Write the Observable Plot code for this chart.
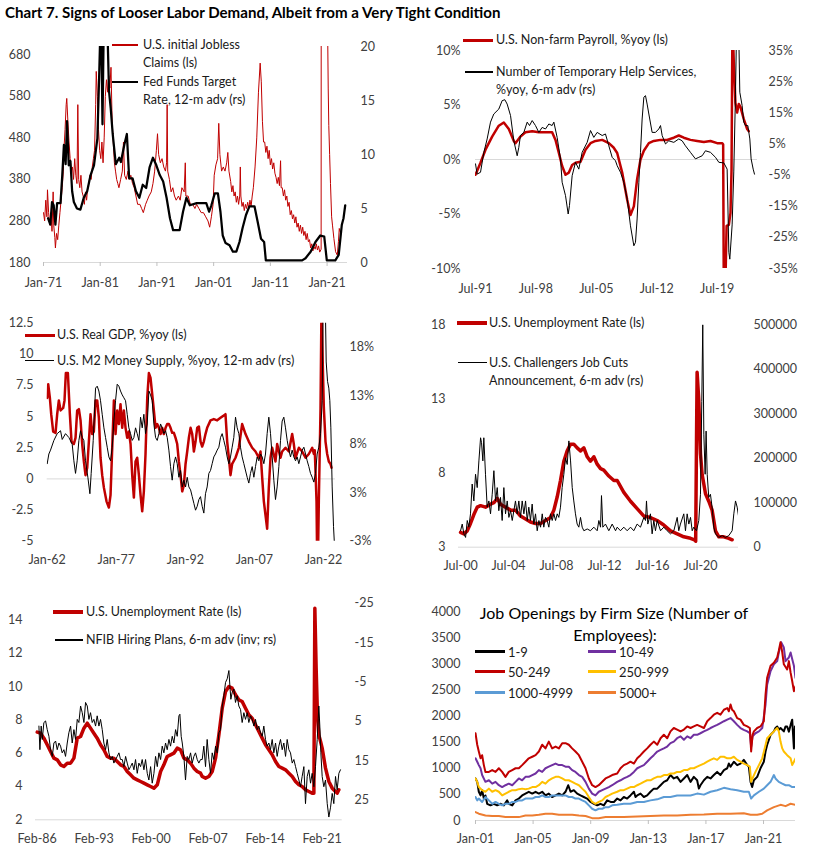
<!DOCTYPE html>
<html>
<head>
<meta charset="utf-8">
<script src="https://cdn.jsdelivr.net/npm/d3@7"></script>
<script src="https://cdn.jsdelivr.net/npm/@observablehq/plot@0.6"></script>
<style>
  html,body{margin:0;padding:0;background:#fff;}
  #chart{position:relative;width:818px;height:859px;background:#fff;overflow:hidden;}
</style>
</head>
<body>
<div id="chart"></div>
<script>
// ---------------- DATA (decimal year, value) ----------------
// Panel 1: initial jobless claims (thousands, ls) and Fed funds target 12-m adv (%, rs)
const claims = [[1971.0,300],[1971.2,280],[1971.4,330],[1971.6,290],[1971.7,355],[1971.9,300],[1972.1,270],[1972.3,300],[1972.5,255],[1972.7,350],[1972.8,270],[1973.0,240],[1973.1,215],[1973.3,250],[1973.5,235],[1973.7,270],[1973.9,300],[1974.1,330],[1974.3,360],[1974.5,400],[1974.6,450],[1974.8,500],[1975.0,560],[1975.1,575],[1975.3,520],[1975.5,470],[1975.7,430],[1975.9,400],[1976.1,410],[1976.3,380],[1976.5,430],[1976.7,390],[1976.9,370],[1977.05,560],[1977.2,380],[1977.4,360],[1977.6,390],[1977.8,350],[1978.0,340],[1978.2,320],[1978.4,350],[1978.6,330],[1978.8,360],[1979.0,370],[1979.2,390],[1979.4,380],[1979.6,410],[1979.8,430],[1980.0,450],[1980.2,560],[1980.3,640],[1980.5,580],[1980.7,500],[1980.9,450],[1981.1,430],[1981.3,470],[1981.5,420],[1981.7,480],[1981.9,580],[1982.1,620],[1982.3,590],[1982.5,630],[1982.7,600],[1982.9,650],[1983.1,520],[1983.3,470],[1983.5,420],[1983.7,400],[1983.9,380],[1984.1,370],[1984.3,360],[1984.6,380],[1984.9,400],[1985.1,470],[1985.3,390],[1985.6,380],[1985.9,400],[1986.1,380],[1986.4,390],[1986.7,370],[1987.0,360],[1987.3,340],[1987.6,320],[1988.0,320],[1988.3,310],[1988.6,300],[1989.0,320],[1989.3,330],[1989.6,340],[1990.0,350],[1990.3,370],[1990.6,400],[1990.9,450],[1991.1,490],[1991.3,440],[1991.6,420],[1991.9,430],[1992.2,410],[1992.5,400],[1992.7,420],[1992.8,560],[1992.9,400],[1993.2,380],[1993.5,350],[1993.8,360],[1994.1,340],[1994.4,330],[1994.8,340],[1995.1,330],[1995.4,360],[1995.8,350],[1996.0,420],[1996.1,340],[1996.5,340],[1996.9,320],[1997.3,320],[1997.7,310],[1998.0,320],[1998.4,310],[1998.8,300],[1999.2,300],[1999.6,290],[2000.0,280],[2000.3,265],[2000.6,290],[2000.9,320],[2001.1,390],[2001.4,415],[2001.7,430],[2001.9,515],[2002.1,440],[2002.4,400],[2002.7,410],[2003.0,400],[2003.3,420],[2003.5,445],[2003.7,400],[2004.0,375],[2004.2,350],[2004.4,365],[2004.6,340],[2004.8,350],[2005.0,325],[2005.2,340],[2005.4,320],[2005.6,340],[2005.7,410],[2005.8,340],[2006.0,315],[2006.2,325],[2006.4,305],[2006.6,320],[2006.8,310],[2007.0,325],[2007.2,310],[2007.4,330],[2007.6,315],[2007.8,340],[2008.0,360],[2008.3,410],[2008.6,480],[2008.9,590],[2009.2,660],[2009.4,615],[2009.6,520],[2009.8,470],[2010.0,470],[2010.2,445],[2010.4,460],[2010.6,430],[2010.8,450],[2011.0,415],[2011.2,430],[2011.4,405],[2011.6,420],[2011.8,395],[2012.0,385],[2012.2,370],[2012.4,385],[2012.6,365],[2012.8,425],[2012.9,360],[2013.1,360],[2013.3,340],[2013.5,355],[2013.7,330],[2013.9,340],[2014.1,315],[2014.3,325],[2014.5,295],[2014.7,305],[2014.9,285],[2015.1,295],[2015.3,275],[2015.5,290],[2015.7,265],[2015.9,275],[2016.1,255],[2016.3,270],[2016.5,250],[2016.7,265],[2016.9,245],[2017.1,255],[2017.3,235],[2017.5,250],[2017.7,230],[2017.9,235],[2018.1,215],[2018.3,225],[2018.5,208],[2018.7,218],[2018.9,212],[2019.1,225],[2019.3,210],[2019.5,220],[2019.7,205],[2019.95,212],[2020.02,3000],[2020.1,6000],[2020.5,1500],[2020.9,800],[2021.1,740],[2021.2,600],[2021.3,510],[2021.45,440],[2021.6,370],[2021.8,290],[2021.95,270],[2022.2,238],[2022.5,206],[2022.8,198],[2023.0,230],[2023.15,262],[2023.3,254]];
const fedFunds = [[1971.8,4.1],[1972.2,3.5],[1972.5,5.6],[1972.8,5.3],[1973.1,3.5],[1973.4,5.5],[1974.0,5.5],[1974.3,8.0],[1974.6,10.9],[1974.9,9.1],[1975.15,13.1],[1975.45,9.0],[1975.75,9.4],[1976.05,6.6],[1976.35,5.6],[1976.9,5.0],[1977.5,4.9],[1978.1,6.0],[1978.7,6.6],[1979.3,8.1],[1979.9,9.0],[1980.5,11.5],[1980.8,17.0],[1981.0,21],[1981.2,21],[1981.4,12.8],[1981.6,21],[1982.3,21],[1982.55,15.9],[1982.85,14.3],[1983.2,11.9],[1983.75,9.1],[1984.35,9.7],[1984.65,9.3],[1985.25,10.9],[1985.7,11.9],[1986.1,7.8],[1986.7,7.8],[1987.3,6.6],[1987.9,6.0],[1988.5,7.2],[1989.1,6.9],[1989.7,8.8],[1990.3,9.7],[1990.9,9.0],[1991.5,8.1],[1992.1,7.5],[1992.7,6.0],[1993.3,4.1],[1993.85,3.0],[1995.0,3.0],[1995.6,4.7],[1996.2,6.0],[1996.8,5.3],[1998.0,5.5],[1999.7,5.5],[2000.2,4.7],[2000.6,5.3],[2001.2,6.4],[2001.75,6.4],[2002.2,4.7],[2002.6,2.5],[2003.1,1.8],[2003.8,1.6],[2004.4,1.0],[2005.0,1.0],[2005.55,1.9],[2006.1,3.2],[2006.7,4.4],[2007.3,5.2],[2008.2,5.2],[2008.75,3.8],[2009.35,2.2],[2009.9,1.9],[2010.2,0.2],[2016.6,0.2],[2017.2,0.4],[2018.1,1.0],[2018.95,1.9],[2019.8,2.5],[2020.5,2.4],[2020.95,0.2],[2022.45,0.2],[2023.05,0.7],[2023.6,3.5],[2023.9,4.1],[2024.2,5.3]];

// Panel 2: non-farm payroll %yoy (ls), temporary help services %yoy 6-m adv (rs)
const payroll = [[1991.5,-1.4],[1992.08,-0.3],[1992.66,0.9],[1993.43,2.1],[1994.2,3.1],[1994.78,3.4],[1995.36,2.8],[1995.94,1.7],[1996.13,1.5],[1996.71,2.1],[1997.29,2.5],[1998.07,2.6],[1998.84,2.5],[1999.61,2.5],[2000.38,2.5],[2000.77,1.8],[2001.16,0.6],[2001.54,-0.6],[2001.93,-1.4],[2002.32,-1.2],[2002.7,-0.5],[2003.09,-0.3],[2003.67,-0.2],[2004.25,0.9],[2004.83,1.5],[2005.41,1.7],[2006.18,1.8],[2006.95,1.5],[2007.5,1.1],[2007.92,0.6],[2008.5,-1.2],[2009.08,-3.7],[2009.46,-5.1],[2009.85,-4.3],[2010.23,-1.8],[2010.62,0.0],[2011.01,0.8],[2011.59,1.5],[2012.16,1.7],[2012.94,1.8],[2013.71,1.8],[2014.48,2.0],[2015.06,2.2],[2015.64,2.0],[2016.41,1.8],[2017.19,1.7],[2017.96,1.6],[2018.73,1.7],[2019.5,1.5],[2020.08,1.5],[2020.2,1.4],[2020.28,-13],[2020.47,-11],[2020.6,-6.1],[2020.86,-6.0],[2021.05,-4.9],[2021.17,-1],[2021.28,13],[2021.43,9],[2021.62,5.2],[2021.82,4.3],[2022.01,5.1],[2022.21,4.8],[2022.59,3.7],[2022.98,2.8],[2023.17,2.6]];
const tempHelp = [[1991.5,-1.4],[1991.69,-4.7],[1992.08,-4.1],[1992.47,2.3],[1992.85,6.6],[1993.24,12],[1993.62,14.6],[1994.2,16.2],[1994.59,18.9],[1994.9,19.2],[1995.17,17.8],[1995.56,14.1],[1995.94,6],[1996.33,1.2],[1996.52,3.9],[1996.71,7.7],[1997.1,8.7],[1997.49,12],[1997.76,10.9],[1998.07,12.5],[1998.45,10.9],[1998.84,8.7],[1999.22,10.3],[1999.61,9.8],[2000.0,11.4],[2000.38,10.9],[2000.58,12],[2000.96,7.1],[2001.35,0.2],[2001.54,-7.3],[2001.93,-11.6],[2002.24,-17.5],[2002.39,-14.8],[2002.7,-5.2],[2003.09,-0.9],[2003.47,-3.1],[2003.86,2.3],[2004.44,5.5],[2004.83,9.3],[2005.21,7.1],[2005.6,8.7],[2006.18,7.7],[2006.56,8.2],[2006.95,4.4],[2007.34,0.7],[2007.72,-0.4],[2007.92,-2],[2008.3,-4.1],[2008.69,-7.3],[2009.08,-12.7],[2009.46,-21.3],[2009.85,-27.7],[2010.04,-26.6],[2010.23,-19.1],[2010.43,-7.3],[2010.62,2.3],[2010.81,13],[2011.01,20],[2011.2,20.5],[2011.39,17.8],[2011.59,14.6],[2011.97,8.7],[2012.36,8.7],[2012.74,9.8],[2012.94,10.9],[2013.13,7.7],[2013.52,5],[2013.9,6],[2014.48,5.5],[2015.06,6.6],[2015.45,6],[2015.83,4.4],[2016.41,2.3],[2016.99,0.2],[2017.38,0.7],[2017.77,1.2],[2018.15,2.8],[2018.73,2.3],[2019.31,0.7],[2019.7,-0.9],[2020.28,-1.1],[2020.66,-3.1],[2020.86,-29.8],[2020.97,-32],[2021.24,-21],[2021.43,-4],[2021.63,21],[2021.74,40],[2022.01,40],[2022.13,21.6],[2022.4,17.3],[2022.59,12],[2022.79,10.9],[2023.06,10.9],[2023.29,6.6],[2023.44,0.2],[2023.68,-3.1],[2023.83,-4.7]];

// Panel 3: real GDP %yoy (ls), M2 %yoy 12-m adv (rs)
const gdp = [[1962.0,6.5],[1962.22,7.6],[1962.58,6.5],[1962.87,5.2],[1963.3,3.8],[1963.81,3.7],[1964.17,5.2],[1964.53,6.3],[1964.9,5.5],[1965.47,5.7],[1965.76,6.3],[1966.05,8.5],[1966.49,8.5],[1966.92,5.2],[1967.28,3.0],[1967.79,2.8],[1968.15,3.3],[1968.51,5.5],[1968.88,5.6],[1969.24,4.7],[1969.6,2.8],[1969.96,1.4],[1970.32,0.3],[1970.69,0.9],[1971.05,3.0],[1971.41,5.2],[1971.77,3.6],[1972.13,3.8],[1972.5,6.3],[1972.86,6.3],[1973.22,4.9],[1973.58,1.7],[1973.94,0.3],[1974.31,-0.7],[1974.88,-1.8],[1975.39,-2.3],[1975.75,-1.3],[1976.12,2.5],[1976.48,6.3],[1976.84,3.6],[1977.2,5.5],[1977.56,4.4],[1977.92,6.0],[1978.29,4.1],[1978.65,5.5],[1979.01,4.1],[1979.37,3.3],[1979.73,3.8],[1980.1,2.8],[1980.46,0.3],[1980.82,-1.5],[1981.18,1.4],[1981.54,1.7],[1981.91,0.3],[1982.27,-1.3],[1982.63,-2.6],[1982.99,-1.0],[1983.35,2.0],[1983.72,6.5],[1984.08,8.5],[1984.44,8.1],[1984.8,6.8],[1985.16,5.5],[1985.53,4.1],[1985.89,4.4],[1986.25,4.1],[1986.61,3.6],[1986.97,4.1],[1987.33,3.6],[1987.7,4.1],[1988.06,4.4],[1988.42,4.4],[1988.78,4.1],[1989.14,3.7],[1989.51,3.7],[1989.87,3.3],[1990.23,2.8],[1990.59,1.4],[1990.95,0.3],[1991.32,-1.0],[1991.68,-0.5],[1992.04,1.2],[1992.4,2.2],[1992.76,3.3],[1993.13,4.1],[1993.49,3.6],[1993.85,2.2],[1994.21,3.0],[1994.57,4.1],[1994.94,4.2],[1995.3,3.0],[1995.65,2.6],[1996.01,3.0],[1996.37,3.6],[1996.73,4.1],[1997.46,4.7],[1998.18,4.8],[1998.91,4.7],[1999.63,4.9],[2000.35,5.1],[2000.71,5.2],[2001.08,3.0],[2001.44,1.7],[2001.8,0.3],[2002.16,1.2],[2002.89,1.7],[2003.61,2.5],[2004.33,4.4],[2005.06,3.6],[2005.78,3.0],[2006.51,2.5],[2007.23,2.2],[2007.95,1.7],[2008.32,2.2],[2008.68,0.1],[2009.04,-1.8],[2009.4,-2.9],[2009.76,-4.0],[2010.12,-0.7],[2010.49,1.7],[2010.85,2.5],[2011.57,1.4],[2011.93,2.8],[2012.66,1.7],[2013.02,2.2],[2013.74,2.5],[2014.47,2.2],[2015.19,3.6],[2015.55,2.8],[2015.92,1.7],[2016.64,2.5],[2017.36,2.2],[2018.09,1.7],[2018.81,2.0],[2019.54,2.5],[2019.9,2.0],[2020.1,2.3],[2020.48,-1.8],[2020.69,-9],[2020.98,-1.8],[2021.35,5.7],[2021.56,14],[2021.85,9.0],[2022.07,5.7],[2022.43,3.0],[2022.79,2.0],[2023.15,1.4],[2023.52,1.2],[2023.73,0.9]];
const m2 = [[1962.0,5.5],[1962.36,6.5],[1962.72,6.9],[1963.45,7.9],[1964.17,8.6],[1964.9,8.9],[1965.26,8.0],[1965.98,8.6],[1966.71,8.2],[1967.43,7.5],[1967.79,5.8],[1968.15,4.5],[1968.51,5.8],[1968.88,7.9],[1969.24,8.9],[1969.6,8.2],[1969.96,7.9],[1970.32,5.8],[1970.83,4.1],[1971.27,2.4],[1971.55,4.5],[1971.99,7.9],[1972.5,13.3],[1972.86,13.5],[1973.22,13.0],[1973.58,12.0],[1973.94,10.6],[1974.31,9.2],[1974.67,8.2],[1975.03,7.2],[1975.39,6.2],[1975.75,5.8],[1976.12,7.2],[1976.48,9.9],[1976.84,12.0],[1977.2,13.7],[1977.56,13.5],[1977.92,13.0],[1978.29,12.6],[1978.65,12.3],[1979.01,12.0],[1979.37,10.6],[1979.73,9.2],[1980.1,8.6],[1980.46,7.9],[1980.82,8.2],[1981.18,9.2],[1981.54,8.6],[1981.91,7.9],[1982.27,10.3],[1982.63,9.2],[1982.99,10.6],[1983.35,8.6],[1983.72,9.6],[1984.08,13.0],[1984.44,12.6],[1984.8,12.0],[1985.16,9.6],[1985.53,8.2],[1985.89,7.9],[1986.25,8.6],[1986.61,9.6],[1986.97,9.2],[1987.33,8.6],[1987.7,8.9],[1988.06,8.2],[1988.42,6.9],[1988.78,5.2],[1989.14,3.8],[1989.51,5.5],[1989.87,6.2],[1990.23,5.5],[1990.59,4.1],[1990.95,4.8],[1991.32,3.1],[1991.68,3.8],[1992.04,3.1],[1992.4,4.1],[1992.76,3.1],[1993.13,2.8],[1993.49,2.1],[1993.85,1.4],[1994.21,0.7],[1994.57,1.1],[1994.94,1.8],[1995.29,2.1],[1995.65,1.1],[1996.01,0.4],[1996.37,2.4],[1996.73,3.1],[1997.1,4.5],[1997.46,4.8],[1997.82,5.5],[1998.18,6.2],[1998.54,6.5],[1998.91,6.9],[1999.27,7.2],[1999.63,8.2],[1999.99,8.6],[2000.35,7.9],[2000.71,7.2],[2001.08,6.2],[2001.44,5.5],[2001.8,6.2],[2002.16,7.2],[2002.52,8.2],[2002.89,10.3],[2003.25,9.2],[2003.61,8.6],[2003.97,7.2],[2004.33,6.2],[2004.7,5.5],[2005.42,4.1],[2005.78,3.5],[2006.14,4.5],[2006.51,5.2],[2006.87,4.1],[2007.23,5.2],[2007.59,6.2],[2007.95,5.8],[2008.32,6.5],[2008.68,6.2],[2009.04,5.5],[2009.4,6.5],[2009.76,8.6],[2010.12,10.3],[2010.49,8.6],[2010.85,6.2],[2011.21,3.8],[2011.57,1.8],[2011.93,3.1],[2012.3,5.2],[2012.66,7.9],[2013.02,9.9],[2013.38,10.3],[2013.74,9.2],[2014.11,7.9],[2014.47,6.9],[2014.83,6.2],[2015.19,6.9],[2015.55,6.2],[2015.92,5.8],[2016.28,6.2],[2016.64,5.5],[2017.0,6.2],[2017.36,6.9],[2017.73,7.2],[2018.09,6.5],[2018.45,5.8],[2018.81,5.2],[2019.17,4.5],[2019.54,4.1],[2019.9,3.6],[2020.26,4.5],[2020.62,6.5],[2020.98,7.2],[2021.35,8.6],[2021.71,12.0],[2022.0,26],[2022.29,25],[2022.58,16.0],[2022.87,14.0],[2023.15,13.3],[2023.37,12.0],[2023.59,9.2],[2023.88,3.1],[2024.17,-1.0],[2024.39,-3.0]];

// Panel 4: unemployment rate (ls), Challenger job cuts 6-m adv (thousands, rs)
const unemp4 = [[2000.5,4.0],[2000.78,3.9],[2001.06,4.1],[2001.33,4.6],[2001.61,5.2],[2001.89,5.7],[2002.17,5.8],[2002.58,5.7],[2003.0,5.9],[2003.28,6.0],[2003.56,6.3],[2003.83,5.9],[2004.25,5.7],[2004.67,5.5],[2005.08,5.5],[2005.5,5.1],[2005.92,4.9],[2006.33,4.7],[2006.75,4.6],[2007.17,4.6],[2007.58,4.8],[2008.0,5.0],[2008.28,5.5],[2008.56,6.4],[2008.83,7.5],[2009.11,8.8],[2009.39,9.5],[2009.67,9.95],[2009.94,9.95],[2010.22,9.7],[2010.5,9.5],[2010.78,9.7],[2011.06,9.1],[2011.33,8.8],[2011.61,9.1],[2011.89,8.6],[2012.17,8.3],[2012.44,8.2],[2012.86,7.8],[2013.28,7.5],[2013.56,7.5],[2014.11,6.7],[2014.67,6.1],[2015.22,5.6],[2015.78,5.1],[2016.33,5.0],[2016.89,4.8],[2017.44,4.5],[2018.0,4.1],[2018.56,3.9],[2019.11,3.7],[2019.67,3.6],[2020.0,3.5],[2020.1,3.4],[2020.17,10.2],[2020.22,14.8],[2020.36,12.9],[2020.5,9.3],[2020.64,7.9],[2020.92,6.6],[2021.19,6.1],[2021.47,5.5],[2021.75,4.1],[2022.03,3.7],[2022.44,3.7],[2022.86,3.6],[2023.14,3.5]];
const jobCuts = [[2000.5,37],[2000.64,52],[2000.78,30],[2000.92,22],[2001.06,60],[2001.19,45],[2001.33,75],[2001.47,142],[2001.61,104],[2001.75,164],[2001.89,134],[2002.03,194],[2002.17,246],[2002.25,235],[2002.36,194],[2002.44,246],[2002.58,164],[2002.72,90],[2002.86,104],[2003.0,75],[2003.14,119],[2003.28,172],[2003.42,104],[2003.56,134],[2003.69,82],[2003.83,112],[2003.97,60],[2004.11,134],[2004.25,75],[2004.39,104],[2004.53,67],[2004.67,82],[2004.81,60],[2005.08,104],[2005.22,75],[2005.36,104],[2005.5,67],[2005.64,104],[2005.78,75],[2005.92,104],[2006.06,60],[2006.19,90],[2006.33,60],[2006.47,97],[2006.61,52],[2006.75,75],[2006.89,37],[2007.03,60],[2007.17,45],[2007.31,75],[2007.44,45],[2007.58,67],[2007.72,60],[2007.86,45],[2008.0,75],[2008.14,60],[2008.28,75],[2008.42,60],[2008.56,75],[2008.69,67],[2008.83,90],[2008.97,134],[2009.11,164],[2009.25,201],[2009.39,186],[2009.53,239],[2009.67,194],[2009.81,134],[2009.94,104],[2010.08,75],[2010.22,52],[2010.36,45],[2010.5,67],[2010.64,45],[2010.78,37],[2011.06,41],[2011.33,37],[2011.61,45],[2011.89,37],[2012.03,60],[2012.17,45],[2012.25,116],[2012.36,45],[2012.58,52],[2012.86,37],[2013.14,52],[2013.42,37],[2013.56,45],[2013.83,37],[2014.11,45],[2014.39,37],[2014.67,45],[2014.94,37],[2015.22,52],[2015.5,45],[2015.78,67],[2015.92,60],[2016.0,104],[2016.11,52],[2016.33,75],[2016.47,30],[2016.61,60],[2016.75,37],[2016.89,60],[2017.17,37],[2017.44,45],[2017.72,37],[2018.0,30],[2018.28,37],[2018.56,67],[2018.69,37],[2018.83,52],[2019.11,75],[2019.25,37],[2019.39,75],[2019.53,52],[2019.67,67],[2019.81,37],[2019.94,45],[2020.17,37],[2020.36,60],[2020.5,119],[2020.61,328],[2020.69,500],[2020.78,254],[2020.89,164],[2020.97,261],[2021.06,164],[2021.19,112],[2021.33,119],[2021.47,90],[2021.61,45],[2021.75,30],[2022.03,22],[2022.31,26],[2022.58,22],[2022.86,26],[2023.14,37],[2023.28,75],[2023.42,104],[2023.56,90],[2023.69,67]];

// Panel 5: unemployment rate (ls), NFIB hiring plans 6-m adv (inverted, rs)
const unemp5 = [[1986.08,7.26],[1986.49,7.2],[1986.9,6.9],[1987.31,6.5],[1987.72,6.1],[1988.13,5.7],[1988.54,5.6],[1988.95,5.3],[1989.36,5.2],[1989.77,5.4],[1990.18,5.4],[1990.59,5.7],[1991.0,6.9],[1991.41,7.0],[1991.82,7.5],[1992.23,7.8],[1992.63,7.5],[1993.04,7.2],[1993.45,6.9],[1993.86,6.5],[1994.27,6.2],[1994.68,5.8],[1995.09,5.7],[1995.5,5.7],[1995.91,5.5],[1996.32,5.3],[1996.73,5.2],[1997.14,4.9],[1997.55,4.7],[1997.96,4.5],[1998.37,4.4],[1998.78,4.3],[1999.19,4.2],[1999.6,4.1],[2000.01,4.0],[2000.42,3.9],[2000.83,4.1],[2001.24,4.9],[2001.64,5.3],[2002.05,5.8],[2002.46,5.9],[2002.87,6.0],[2003.28,6.3],[2003.69,6.2],[2004.1,5.7],[2004.51,5.6],[2004.92,5.4],[2005.33,5.1],[2005.74,4.9],[2006.15,4.8],[2006.35,4.6],[2006.76,4.5],[2007.17,4.6],[2007.58,4.9],[2007.99,5.7],[2008.4,7.1],[2008.81,8.7],[2009.22,9.7],[2009.63,10.0],[2010.03,9.9],[2010.44,9.5],[2010.85,9.2],[2011.26,9.1],[2011.67,8.7],[2012.08,8.3],[2012.49,8.1],[2012.9,7.7],[2013.31,7.3],[2013.72,6.9],[2014.13,6.5],[2014.54,6.2],[2014.95,5.9],[2015.36,5.5],[2015.77,5.2],[2016.18,5.1],[2016.59,5.0],[2017.0,4.8],[2017.41,4.6],[2017.82,4.3],[2018.23,4.1],[2018.63,4.0],[2019.04,3.8],[2019.45,3.7],[2019.86,3.6],[2020.07,3.6],[2020.19,14.7],[2020.35,11.1],[2020.52,8.1],[2020.68,7.1],[2020.89,6.7],[2021.09,6.3],[2021.5,5.1],[2021.91,4.3],[2022.32,3.9],[2022.73,3.7],[2022.93,3.6],[2023.14,3.8]];
const nfib = [[1986.29,6.2],[1986.41,12.2],[1986.57,6.2],[1986.7,9.6],[1986.9,5.3],[1987.11,4.9],[1987.31,7.1],[1987.52,8.8],[1987.72,12.2],[1987.93,13.9],[1988.13,10.5],[1988.34,10.0],[1988.54,12.2],[1988.75,10.5],[1988.95,11.3],[1989.15,13.0],[1989.36,12.2],[1989.56,13.9],[1989.77,10.5],[1989.97,7.9],[1990.18,6.2],[1990.38,10.5],[1990.59,7.1],[1990.79,9.6],[1991.0,4.5],[1991.2,5.3],[1991.41,1.1],[1991.61,2.8],[1991.82,5.3],[1992.02,0.2],[1992.23,1.1],[1992.43,4.5],[1992.63,2.8],[1992.84,5.3],[1993.04,4.5],[1993.25,6.2],[1993.45,3.6],[1993.66,6.2],[1993.86,4.5],[1994.07,7.1],[1994.27,10.5],[1994.48,12.2],[1994.68,9.6],[1994.89,13.0],[1995.09,14.7],[1995.3,13.9],[1995.5,15.6],[1995.71,14.7],[1995.91,13.9],[1996.12,13.0],[1996.32,14.7],[1996.53,14.7],[1996.73,16.5],[1996.94,13.9],[1997.14,15.6],[1997.35,17.3],[1997.55,16.5],[1997.76,15.6],[1997.96,17.3],[1998.16,14.7],[1998.37,18.2],[1998.57,15.6],[1998.78,16.5],[1998.98,14.7],[1999.19,17.3],[1999.39,14.7],[1999.6,18.2],[1999.8,19.9],[2000.01,16.5],[2000.21,20.7],[2000.42,18.2],[2000.62,13.9],[2000.83,16.5],[2001.03,13.0],[2001.24,14.7],[2001.44,11.3],[2001.64,13.0],[2001.85,10.5],[2002.05,12.2],[2002.26,9.6],[2002.46,11.3],[2002.67,8.8],[2002.87,10.5],[2003.08,7.1],[2003.28,8.8],[2003.49,3.6],[2003.61,3.2],[2003.77,8.8],[2003.9,10.5],[2004.1,13.9],[2004.3,19.9],[2004.51,13.9],[2004.71,14.7],[2004.92,13.0],[2005.12,15.6],[2005.33,13.9],[2005.53,13.0],[2005.74,14.7],[2005.94,15.6],[2006.15,14.7],[2006.35,14.7],[2006.55,11.3],[2006.76,16.5],[2006.96,9.6],[2007.17,14.7],[2007.37,18.2],[2007.58,13.0],[2007.78,14.7],[2007.99,11.3],[2008.19,13.0],[2008.4,7.9],[2008.6,7.1],[2008.81,1.1],[2009.01,-1.5],[2009.22,-4.9],[2009.42,-5.8],[2009.63,-7.9],[2009.75,-4.1],[2009.87,-0.6],[2010.03,-2.3],[2010.24,-3.2],[2010.44,0.2],[2010.65,-1.5],[2010.85,1.1],[2011.06,2.0],[2011.26,5.3],[2011.47,2.8],[2011.67,4.5],[2011.88,2.8],[2012.08,5.3],[2012.29,3.6],[2012.49,4.5],[2012.7,6.2],[2012.9,4.5],[2013.11,7.1],[2013.31,6.2],[2013.52,7.9],[2013.72,8.8],[2013.92,6.2],[2014.13,9.6],[2014.33,11.3],[2014.54,10.5],[2014.74,12.2],[2014.95,9.6],[2015.15,13.0],[2015.36,10.5],[2015.56,13.9],[2015.77,11.3],[2015.97,9.6],[2016.18,12.2],[2016.38,10.5],[2016.59,13.9],[2016.79,9.6],[2017.0,12.2],[2017.2,13.0],[2017.41,15.6],[2017.61,14.7],[2017.82,16.5],[2018.02,18.2],[2018.23,19.9],[2018.43,21.6],[2018.63,19.0],[2018.84,16.5],[2019.04,25.9],[2019.25,19.0],[2019.45,17.3],[2019.66,20.7],[2019.86,18.2],[2020.07,21.6],[2020.27,16.5],[2020.48,9.6],[2020.68,1.1],[2020.8,6.2],[2020.93,13.0],[2021.09,19.0],[2021.29,21.6],[2021.5,19.9],[2021.71,25.9],[2021.91,29.3],[2022.12,26.8],[2022.32,23.3],[2022.52,25.9],[2022.73,19.0],[2022.93,22.4],[2023.14,18.2],[2023.34,17.3]];

// Panel 6: job openings by firm size (thousands)
const jo1to9 = [[2001.0,805],[2001.12,740],[2001.23,550],[2001.35,480],[2001.46,580],[2001.58,420],[2001.69,480],[2001.81,320],[2002.04,290],[2002.27,320],[2002.5,290],[2002.74,320],[2002.97,290],[2003.2,385],[2003.31,320],[2003.55,290],[2003.78,385],[2004.01,420],[2004.24,480],[2004.47,515],[2004.7,550],[2004.94,515],[2005.17,550],[2005.4,515],[2005.63,550],[2005.86,480],[2006.09,515],[2006.32,450],[2006.56,480],[2006.79,515],[2007.02,480],[2007.25,550],[2007.44,675],[2007.6,550],[2007.83,580],[2008.06,515],[2008.29,480],[2008.52,450],[2008.75,420],[2008.99,355],[2009.22,320],[2009.45,290],[2009.68,320],[2009.91,290],[2010.14,385],[2010.38,355],[2010.61,355],[2010.84,420],[2011.07,385],[2011.3,450],[2011.53,420],[2011.76,480],[2012.0,550],[2012.11,450],[2012.23,480],[2012.46,515],[2012.69,450],[2012.92,480],[2013.15,550],[2013.38,610],[2013.62,610],[2013.85,675],[2014.08,740],[2014.31,770],[2014.54,870],[2014.77,805],[2015.0,835],[2015.24,740],[2015.47,805],[2015.7,870],[2015.93,740],[2016.16,835],[2016.39,770],[2016.51,610],[2016.62,675],[2016.86,770],[2017.09,835],[2017.32,805],[2017.55,870],[2017.78,930],[2018.01,870],[2018.25,965],[2018.48,1000],[2018.59,1090],[2018.71,1030],[2018.94,1125],[2019.17,1060],[2019.4,1090],[2019.63,1160],[2019.87,1060],[2019.98,1030],[2020.1,740],[2020.21,640],[2020.33,770],[2020.56,835],[2020.79,1000],[2021.02,1125],[2021.14,1320],[2021.25,1445],[2021.49,1640],[2021.72,1705],[2021.83,1770],[2021.95,1800],[2022.06,1735],[2022.18,1770],[2022.41,1705],[2022.53,1800],[2022.64,1800],[2022.76,1700],[2022.88,1830],[2022.99,1930],[2023.11,1380],[2023.18,1800],[2023.22,1770]];
const jo10to49 = [[2001.0,1190],[2001.12,1125],[2001.23,1060],[2001.35,1000],[2001.46,870],[2001.69,740],[2001.93,770],[2002.16,705],[2002.39,740],[2002.62,675],[2002.85,640],[2003.08,675],[2003.31,705],[2003.55,675],[2003.78,740],[2004.01,805],[2004.24,770],[2004.47,835],[2004.7,835],[2004.94,870],[2005.17,900],[2005.4,965],[2005.63,930],[2005.86,1000],[2006.09,1030],[2006.32,1060],[2006.56,1090],[2006.79,1060],[2007.02,1060],[2007.25,1030],[2007.48,1030],[2007.71,965],[2007.94,930],[2008.18,870],[2008.41,835],[2008.64,740],[2008.87,610],[2009.1,515],[2009.33,480],[2009.56,550],[2009.8,580],[2010.03,610],[2010.26,640],[2010.49,675],[2010.84,740],[2011.07,770],[2011.3,805],[2011.53,835],[2011.76,870],[2012.0,930],[2012.23,1000],[2012.46,1030],[2012.69,1060],[2012.92,1125],[2013.15,1190],[2013.38,1250],[2013.62,1320],[2013.85,1350],[2014.08,1380],[2014.31,1415],[2014.54,1480],[2014.77,1510],[2015.0,1575],[2015.24,1610],[2015.47,1545],[2015.7,1610],[2015.93,1575],[2016.16,1640],[2016.39,1640],[2016.62,1670],[2016.86,1705],[2017.09,1735],[2017.32,1770],[2017.55,1800],[2017.78,1830],[2018.01,1865],[2018.25,1900],[2018.48,1930],[2018.71,1960],[2018.94,1900],[2019.17,1830],[2019.4,1770],[2019.63,1735],[2019.87,1705],[2020.05,1670],[2020.14,1415],[2020.24,1610],[2020.44,1670],[2020.68,1705],[2020.91,1770],[2021.14,2220],[2021.25,2600],[2021.49,2860],[2021.72,2990],[2021.95,3050],[2022.06,3215],[2022.23,3410],[2022.41,3310],[2022.53,3050],[2022.76,3120],[2022.88,3215],[2022.99,3090],[2023.11,2960],[2023.22,2730]];
const jo50to249 = [[2001.0,1670],[2001.12,1450],[2001.23,1320],[2001.35,1190],[2001.46,1250],[2001.58,1060],[2001.69,930],[2001.93,930],[2002.16,965],[2002.39,930],[2002.62,1000],[2002.85,930],[2003.08,835],[2003.31,930],[2003.55,965],[2003.78,1000],[2004.01,1000],[2004.24,1060],[2004.47,1125],[2004.7,1190],[2004.94,1220],[2005.17,1250],[2005.4,1320],[2005.63,1450],[2005.86,1380],[2006.09,1510],[2006.32,1380],[2006.56,1415],[2006.79,1380],[2007.02,1480],[2007.25,1480],[2007.48,1450],[2007.71,1380],[2007.94,1320],[2008.18,1250],[2008.41,1125],[2008.64,1000],[2008.87,805],[2009.1,675],[2009.33,640],[2009.56,675],[2009.8,740],[2010.03,805],[2010.26,835],[2010.49,870],[2010.84,900],[2011.07,1000],[2011.3,1060],[2011.53,1090],[2011.76,1125],[2012.0,1090],[2012.23,1190],[2012.46,1250],[2012.69,1320],[2012.92,1380],[2013.15,1450],[2013.38,1510],[2013.62,1450],[2013.85,1575],[2014.08,1640],[2014.31,1575],[2014.54,1705],[2014.77,1770],[2015.0,1740],[2015.24,1705],[2015.47,1740],[2015.7,1800],[2015.93,1770],[2016.16,1800],[2016.39,1830],[2016.62,1800],[2016.86,1770],[2017.09,1900],[2017.32,1960],[2017.55,2025],[2017.78,2060],[2018.01,2025],[2018.25,2120],[2018.48,2150],[2018.59,2090],[2018.71,2220],[2018.82,2120],[2018.94,2090],[2019.17,1960],[2019.4,1930],[2019.63,1830],[2019.87,1800],[2020.05,1770],[2020.14,1320],[2020.24,1640],[2020.33,1705],[2020.56,1770],[2020.79,1800],[2021.02,1900],[2021.14,2410],[2021.25,2730],[2021.49,2960],[2021.72,3020],[2021.95,3120],[2022.06,3250],[2022.18,3410],[2022.3,3220],[2022.41,2990],[2022.64,2890],[2022.76,3050],[2022.88,2830],[2022.99,2670],[2023.11,2475],[2023.22,2570]];
const jo250to999 = [[2001.0,805],[2001.12,740],[2001.23,640],[2001.46,580],[2001.69,550],[2001.93,610],[2002.16,550],[2002.39,580],[2002.62,550],[2002.85,480],[2003.08,515],[2003.31,550],[2003.55,580],[2003.78,580],[2004.01,600],[2004.24,610],[2004.47,600],[2004.7,610],[2004.94,640],[2005.17,640],[2005.4,675],[2005.63,740],[2005.86,705],[2006.09,770],[2006.32,805],[2006.56,835],[2006.79,835],[2007.02,805],[2007.25,770],[2007.48,770],[2007.71,740],[2007.94,705],[2008.18,675],[2008.41,610],[2008.64,550],[2008.87,450],[2009.1,355],[2009.33,320],[2009.56,355],[2009.8,385],[2010.03,450],[2010.26,480],[2010.49,515],[2010.84,550],[2011.07,580],[2011.3,580],[2011.53,610],[2011.76,640],[2012.0,640],[2012.23,675],[2012.46,705],[2012.69,740],[2012.92,770],[2013.15,770],[2013.38,805],[2013.62,835],[2013.85,835],[2014.08,870],[2014.31,870],[2014.54,900],[2014.77,900],[2015.0,930],[2015.24,930],[2015.47,965],[2015.7,965],[2015.93,1000],[2016.16,1000],[2016.39,1030],[2016.62,1060],[2016.86,1090],[2017.09,1125],[2017.32,1160],[2017.55,1190],[2017.78,1160],[2018.01,1220],[2018.25,1220],[2018.48,1190],[2018.71,1190],[2018.94,1220],[2019.17,1160],[2019.4,1125],[2019.63,1090],[2019.87,1060],[2020.05,1030],[2020.14,740],[2020.28,835],[2020.44,930],[2020.68,1060],[2020.91,1190],[2021.14,1445],[2021.25,1575],[2021.49,1640],[2021.72,1705],[2021.95,1770],[2022.06,1705],[2022.18,1510],[2022.3,1380],[2022.41,1320],[2022.64,1250],[2022.88,1190],[2022.99,1060],[2023.11,1125],[2023.22,1190]];
const jo1000to4999 = [[2001.0,450],[2001.12,385],[2001.23,420],[2001.46,355],[2001.69,450],[2001.93,385],[2002.16,320],[2002.39,355],[2002.62,320],[2002.85,290],[2003.08,320],[2003.31,320],[2003.55,355],[2003.78,355],[2004.01,385],[2004.24,385],[2004.47,420],[2004.7,420],[2004.94,420],[2005.17,450],[2005.4,450],[2005.63,480],[2005.86,450],[2006.09,450],[2006.32,480],[2006.56,480],[2006.79,480],[2007.02,480],[2007.25,480],[2007.48,450],[2007.71,450],[2007.94,420],[2008.18,420],[2008.41,385],[2008.64,355],[2008.87,290],[2009.1,225],[2009.33,195],[2009.56,225],[2009.8,225],[2010.03,255],[2010.26,255],[2010.49,290],[2010.84,300],[2011.3,320],[2011.76,320],[2012.23,355],[2012.69,355],[2013.15,385],[2013.62,405],[2014.08,450],[2014.54,450],[2015.0,480],[2015.47,480],[2015.93,480],[2016.39,515],[2016.86,495],[2017.32,550],[2017.78,580],[2018.25,625],[2018.71,600],[2019.17,580],[2019.63,550],[2019.98,550],[2020.14,420],[2020.33,480],[2020.68,550],[2021.02,610],[2021.25,675],[2021.49,740],[2021.72,870],[2021.83,805],[2022.06,740],[2022.3,705],[2022.53,675],[2022.76,675],[2022.99,640],[2023.22,640]];
const jo5000plus = [[2001.0,160],[2001.23,130],[2001.69,95],[2002.16,85],[2002.62,85],[2003.08,65],[2003.55,65],[2004.01,65],[2004.47,95],[2004.94,95],[2005.4,110],[2005.86,130],[2006.32,130],[2006.79,110],[2007.25,110],[2007.71,110],[2008.18,95],[2008.64,85],[2009.1,45],[2009.56,45],[2010.03,65],[2010.49,65],[2011.3,65],[2012.23,75],[2013.15,85],[2014.08,95],[2015.0,95],[2015.93,110],[2016.86,115],[2017.78,130],[2018.71,130],[2019.63,140],[2020.1,110],[2020.56,110],[2020.91,130],[2021.25,195],[2021.72,255],[2022.18,300],[2022.53,275],[2022.88,320],[2023.22,300]];
const sizeNames = ["1-9","10-49","50-249","250-999","1000-4999","5000+"];
const sizeSeries = [jo1to9, jo10to49, jo50to249, jo250to999, jo1000to4999, jo5000plus];
const sizeColors = ["#000000","#7030A0","#C00000","#FFC000","#5B9BD5","#ED7D31"];

// ---------------- TICKS / LABELS ----------------
const p1XTicks = [1971,1981,1991,2001,2011,2021];
const p1XLabels = ["Jan-71","Jan-81","Jan-91","Jan-01","Jan-11","Jan-21"];
const p1LeftTicks = [180,280,380,480,580,680];
const p1RightTicks = [0,5,10,15,20];
const p2XTicks = [1991.5,1998.5,2005.5,2012.5,2019.5];
const p2XLabels = ["Jul-91","Jul-98","Jul-05","Jul-12","Jul-19"];
const p2LeftTicks = [-10,-5,0,5,10];
const p2LeftLabels = ["-10%","-5%","0%","5%","10%"];
const p2RightTicks = [-35,-25,-15,-5,5,15,25,35];
const p2RightLabels = ["-35%","-25%","-15%","-5%","5%","15%","25%","35%"];
const p3XTicks = [1962,1977,1992,2007,2022];
const p3XLabels = ["Jan-62","Jan-77","Jan-92","Jan-07","Jan-22"];
const p3LeftTicks = [-5,-2.5,0,2.5,5,7.5,10,12.5];
const p3LeftLabels = ["-5","-2.5","0","2.5","5","7.5","10","12.5"];
const p3RightTicks = [-2.5,2.5,7.5,12.5,17.5];
const p3RightLabels = ["-3%","3%","8%","13%","18%"];
const p4XTicks = [2000.5,2004.5,2008.5,2012.5,2016.5,2020.5];
const p4XLabels = ["Jul-00","Jul-04","Jul-08","Jul-12","Jul-16","Jul-20"];
const p4LeftTicks = [3,8,13,18];
const p4RightTicks = [0,100,200,300,400,500];
const p4RightLabels = ["0","100000","200000","300000","400000","500000"];
const p5XTicks = [1986.08,1993.08,2000.08,2007.08,2014.08,2021.08];
const p5XLabels = ["Feb-86","Feb-93","Feb-00","Feb-07","Feb-14","Feb-21"];
const p5LeftTicks = [2,4,6,8,10,12,14];
const p5RightTicks = [-25,-15,-5,5,15,25];
const p6XTicks = [2001,2005,2009,2013,2017,2021];
const p6XLabels = ["Jan-01","Jan-05","Jan-09","Jan-13","Jan-17","Jan-21"];
const p6YTicks = [0,500,1000,1500,2000,2500,3000,3500,4000];

// ---------------- RENDERING ----------------
const FONT = "Lato, 'Liberation Sans', Arial, sans-serif";
const RED = "#C00000";
const GRID = "#d9d9d9";
const TXT = "#1a1a1a";
const root = document.getElementById("chart");

const fmtFrom = (ticks, labels) => d => { const i = ticks.indexOf(d); return i < 0 ? "" : labels[i]; };
const plain = d => String(d);
const ln = (data, stroke, sw) => Plot.line(data, {x: d => d[0], y: d => d[1], stroke, strokeWidth: sw, clip: true, strokeLinejoin: "round"});

function layer(box, yDomain, marks, opts = {}) {
  const xOpt = {type: "linear", domain: box.xDomain};
  if (opts.noX) xOpt.axis = null;
  const svg = Plot.plot({
    width: box.w, height: box.h,
    marginLeft: box.fx0 - box.x, marginRight: box.x + box.w - box.fx1,
    marginTop: box.fy0 - box.y, marginBottom: box.y + box.h - box.fy1,
    style: {background: "transparent", color: "#404040", fontFamily: FONT, fontSize: "12.5px", overflow: "visible"},
    x: xOpt,
    y: {type: "linear", domain: yDomain, reverse: !!opts.reverse},
    marks
  });
  const d = document.createElement("div");
  d.style.cssText = `position:absolute;left:${box.x}px;top:${box.y}px;width:${box.w}px;height:${box.h}px;`;
  d.appendChild(svg);
  root.appendChild(d);
}
function xText(ticks, labels, pad) {
  return Plot.axisX({ticks, tickFormat: fmtFrom(ticks, labels), tickSize: 0, tickPadding: pad, label: null});
}
function xTickMarks(ticks) {
  return Plot.axisX({ticks, tickFormat: () => "", tickSize: 4, tickPadding: 0, stroke: "#bfbfbf", label: null});
}
function sample(x1, x2, y, color, sw) {
  const d = document.createElement("div");
  d.style.cssText = `position:absolute;left:${x1}px;top:${y - sw/2}px;width:${x2 - x1}px;height:${sw}px;background:${color};`;
  root.appendChild(d);
}
function txt(s, x, y, size = 12.5, extra = "") {
  const d = document.createElement("div");
  d.textContent = s;
  d.style.cssText = `position:absolute;left:${x}px;top:${y - 10}px;line-height:20px;font-size:${size}px;white-space:nowrap;font-family:${FONT};color:${TXT};${extra}`;
  root.appendChild(d);
  return d;
}

// Title
const title = txt("Chart 7. Signs of Looser Labor Demand, Albeit from a Very Tight Condition", 5, 12, 14, "font-weight:700;color:#000;");
(function fit(el, target) { const w = el.getBoundingClientRect().width; if (w > 0) el.style.fontSize = (14 * target / w).toFixed(2) + "px"; })(title, 496);

// Panel 1
const B1 = {x: 0, y: 25, w: 400, h: 275, fx0: 43, fx1: 347, fy0: 46, fy1: 262, xDomain: [1971, 2024.6]};
layer(B1, [180, 700], [
  Plot.ruleY([180], {stroke: GRID}),
  xTickMarks(p1XTicks),
  xText(p1XTicks, p1XLabels, 15.5),
  Plot.axisY({ticks: p1LeftTicks, tickFormat: plain, tickSize: 0, tickPadding: 13, label: null}),
  ln(claims, RED, 1)
]);
layer(B1, [0, 20], [
  Plot.axisY({anchor: "right", ticks: p1RightTicks, tickFormat: plain, tickSize: 0, tickPadding: 13, label: null}),
  ln(fedFunds, "#000", 2.25)
], {noX: true});
sample(112, 138, 45, RED, 1.2);
txt("U.S. initial Jobless", 143, 45); txt("Claims (ls)", 143, 63);
sample(112, 138, 82, "#000", 2.5);
txt("Fed Funds Target", 143, 82); txt("Rate, 12-m adv (rs)", 143, 100);

// Panel 2
const B2 = {x: 405, y: 25, w: 413, h: 275, fx0: 475, fx1: 757, fy0: 50, fy1: 268, xDomain: [1991.5, 2024.18]};
layer(B2, [-10, 10], [
  Plot.ruleY([0], {stroke: GRID}),
  xText(p2XTicks, p2XLabels, 15.5),
  Plot.axisY({ticks: p2LeftTicks, tickFormat: fmtFrom(p2LeftTicks, p2LeftLabels), tickSize: 0, tickPadding: 15, label: null}),
  ln(payroll, RED, 2.5)
]);
layer(B2, [-35, 35], [
  Plot.axisY({anchor: "right", ticks: p2RightTicks, tickFormat: fmtFrom(p2RightTicks, p2RightLabels), tickSize: 0, tickPadding: 11, label: null}),
  ln(tempHelp, "#000", 1)
], {noX: true});
sample(463, 493, 40, RED, 3);
txt("U.S. Non-farm Payroll, %yoy (ls)", 496, 40);
sample(465, 493, 72, "#000", 1.2);
txt("Number of Temporary Help Services,", 496, 72); txt("%yoy, 6-m adv (rs)", 496, 90);

// Panel 3
const B3 = {x: 0, y: 300, w: 400, h: 285, fx0: 46.7, fx1: 335, fy0: 322.7, fy1: 540.7, xDomain: [1962, 2024.6]};
layer(B3, [-5, 12.5], [
  Plot.ruleY([0], {stroke: GRID}),
  xText(p3XTicks, p3XLabels, 13.8),
  Plot.axisY({ticks: p3LeftTicks, tickFormat: fmtFrom(p3LeftTicks, p3LeftLabels), tickSize: 0, tickPadding: 13.7, label: null}),
  ln(gdp, RED, 2.5)
]);
layer(B3, [-2.5, 20], [
  Plot.axisY({anchor: "right", ticks: p3RightTicks, tickFormat: fmtFrom(p3RightTicks, p3RightLabels), tickSize: 0, tickPadding: 14, label: null}),
  ln(m2, "#000", 1)
], {noX: true});
sample(25, 55, 335, RED, 3);
txt("U.S. Real GDP, %yoy (ls)", 57, 335);
sample(25, 54, 360.5, "#000", 1.2);
txt("U.S. M2 Money Supply, %yoy, 12-m adv (rs)", 57, 360.5);

// Panel 4
const B4 = {x: 405, y: 300, w: 413, h: 285, fx0: 458, fx1: 738, fy0: 324.3, fy1: 546.7, xDomain: [2000.33, 2023.67]};
layer(B4, [3, 18], [
  Plot.ruleY([3], {stroke: GRID}),
  xText(p4XTicks, p4XLabels, 13.8),
  Plot.axisY({ticks: p4LeftTicks, tickFormat: plain, tickSize: 0, tickPadding: 13, label: null}),
  ln(unemp4, RED, 3.5)
]);
layer(B4, [0, 500], [
  Plot.axisY({anchor: "right", ticks: p4RightTicks, tickFormat: fmtFrom(p4RightTicks, p4RightLabels), tickSize: 0, tickPadding: 15, label: null}),
  ln(jobCuts, "#000", 1)
], {noX: true});
sample(457, 487, 322.7, RED, 4);
txt("U.S. Unemployment Rate (ls)", 489, 322.7);
sample(458, 487, 362.7, "#000", 1.2);
txt("U.S. Challengers Job Cuts", 489, 362.7); txt("Announcement, 6-m adv (rs)", 489, 380.7);

// Panel 5
const B5 = {x: 0, y: 585, w: 400, h: 274, fx0: 35, fx1: 341.7, fy0: 602.7, fy1: 819.3, xDomain: [1985.87, 2023.55]};
layer(B5, [2, 15], [
  Plot.ruleY([2], {stroke: GRID}),
  xText(p5XTicks, p5XLabels, 14.2),
  Plot.axisY({ticks: p5LeftTicks, tickFormat: plain, tickSize: 0, tickPadding: 13, label: null}),
  ln(unemp5, RED, 3.5)
]);
layer(B5, [-25, 30], [
  Plot.axisY({anchor: "right", ticks: p5RightTicks, tickFormat: plain, tickSize: 0, tickPadding: 12.3, label: null}),
  ln(nfib, "#000", 1)
], {noX: true, reverse: true});
sample(53, 83, 612.3, RED, 4);
txt("U.S. Unemployment Rate (ls)", 86, 612.3);
sample(55, 83, 640, "#000", 1.2);
txt("NFIB Hiring Plans, 6-m adv (inv; rs)", 86, 640);

// Panel 6
const B6 = {x: 405, y: 595, w: 413, h: 264, fx0: 475, fx1: 795, fy0: 611, fy1: 820, xDomain: [2001, 2023.22]};
layer(B6, [0, 4000], [
  Plot.ruleY([0], {stroke: GRID}),
  xTickMarks(p6XTicks),
  xText(p6XTicks, p6XLabels, 13.8),
  Plot.axisY({ticks: p6YTicks, tickFormat: plain, tickSize: 0, tickPadding: 15, label: null}),
  ...sizeSeries.map((s, i) => ln(s, sizeColors[i], 2))
]);
txt("Job Openings by Firm Size (Number of", 414, 613.3, 16, "width:400px;text-align:center;color:#000;");
txt("Employees):", 415, 634.5, 16, "width:400px;text-align:center;color:#000;");
const lgRows = [651.7, 671.7, 692.7];
sizeNames.forEach((name, i) => {
  const row = Math.floor(i / 2), col = i % 2;
  const x1 = col === 0 ? 475 : 588, x2 = col === 0 ? 505 : 616, tx = col === 0 ? 508 : 619;
  sample(x1, x2, lgRows[row], sizeColors[i], 2.5);
  txt(name, tx, lgRows[row], 13);
});
</script>
</body>
</html>
